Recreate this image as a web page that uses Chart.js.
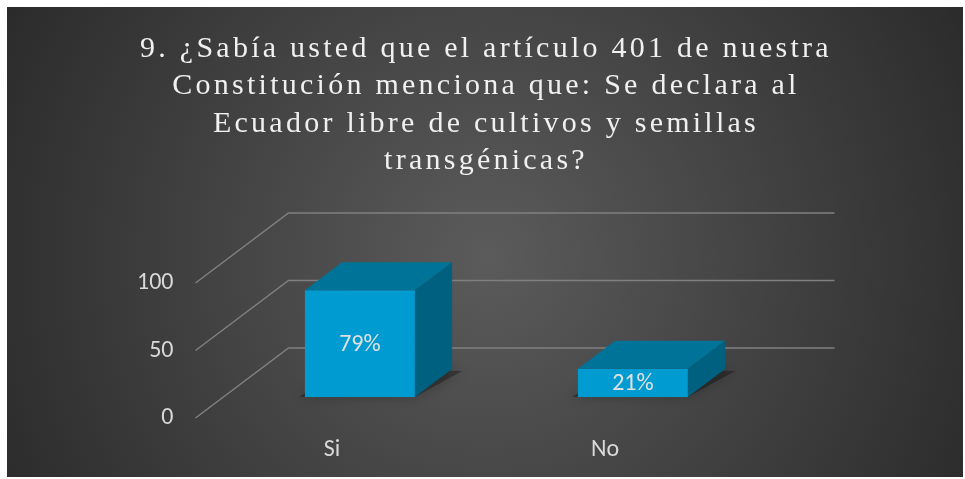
<!DOCTYPE html>
<html>
<head>
<meta charset="utf-8">
<script src="https://cdn.jsdelivr.net/npm/chart.js@4.4.1/dist/chart.umd.min.js"></script>
<style>
  body { margin: 0; background: #ffffff; }
  #chart { position: absolute; left: 7px; top: 7px; }
</style>
</head>
<body>
<canvas id="chart" width="956" height="470"></canvas>
<script>
const titleLines = [
    '9. ¿Sabía usted que el artículo 401 de nuestra',
    'Constitución menciona que: Se declara al',
    'Ecuador libre de cultivos y semillas',
    'transgénicas?'
];
const categories = ['Si', 'No'];
const values = [79, 21];
const valueLabels = ['79%', '21%'];
const yTicks = [0, 50, 100];

// oblique "3d" depth of the floor, and where the bars sit in it
const depth = { x: 93, y: -70 };
const barShift = 0.3;
const barDepth = 0.4;

const chartEl = document.getElementById('chart');

const bar3d = {
    id: 'bar3d',
    beforeDraw(chart) {
        const ctx = chart.ctx;
        const g = ctx.createRadialGradient(480, 250, 0, 480, 250, 620);
        g.addColorStop(0, '#5b5b5b');
        g.addColorStop(1, '#242424');
        ctx.save();
        ctx.fillStyle = g;
        ctx.fillRect(0, 0, chart.width, chart.height);
        ctx.restore();
    },
    beforeDatasetsDraw(chart) {
        const ctx = chart.ctx;
        const area = chart.chartArea;
        const y = chart.scales.y;
        // walls grid
        ctx.save();
        ctx.strokeStyle = '#808080';
        ctx.lineWidth = 1.5;
        y.ticks.forEach(t => {
            const py = y.getPixelForValue(t.value);
            ctx.beginPath();
            ctx.moveTo(area.left, py);
            ctx.lineTo(area.left + depth.x, py + depth.y);
            ctx.lineTo(area.right + depth.x, py + depth.y);
            ctx.stroke();
        });
        ctx.restore();

        // soft shadows on the floor
        const sx = depth.x * barShift, sy = depth.y * barShift;
        const dx = depth.x * barDepth, dy = depth.y * barDepth;
        ctx.save();
        ctx.translate(sx, sy);
        chart.getDatasetMeta(0).data.forEach(bar => {
            const x0 = bar.x - bar.width / 2, x1 = bar.x + bar.width / 2, b = bar.base;
            ctx.fillStyle = 'rgba(0,0,0,0.3)';
            ctx.shadowColor = 'rgba(0,0,0,0.7)';
            ctx.shadowBlur = 12;
            ctx.beginPath();
            ctx.moveTo(x0 - 6, b);
            ctx.lineTo(x1, b);
            ctx.lineTo(x1 + dx + 10, b + dy + 2);
            ctx.lineTo(x0 + dx, b + dy);
            ctx.closePath();
            ctx.fill();
        });
        ctx.restore();

        ctx.save();
        ctx.translate(sx, sy);
    },
    afterDatasetsDraw(chart) {
        const ctx = chart.ctx;
        ctx.restore();
        const sx = depth.x * barShift, sy = depth.y * barShift;
        const dx = depth.x * barDepth, dy = depth.y * barDepth;
        ctx.save();
        ctx.translate(sx, sy);
        chart.getDatasetMeta(0).data.forEach((bar, i) => {
            const x0 = bar.x - bar.width / 2, x1 = bar.x + bar.width / 2;
            const top = bar.y, b = bar.base;
            // top face
            ctx.fillStyle = '#007399';
            ctx.beginPath();
            ctx.moveTo(x0, top);
            ctx.lineTo(x0 + dx, top + dy);
            ctx.lineTo(x1 + dx, top + dy);
            ctx.lineTo(x1, top);
            ctx.closePath();
            ctx.fill();
            // side face
            ctx.fillStyle = '#00607f';
            ctx.beginPath();
            ctx.moveTo(x1, top);
            ctx.lineTo(x1 + dx, top + dy);
            ctx.lineTo(x1 + dx, b + dy);
            ctx.lineTo(x1, b);
            ctx.closePath();
            ctx.fill();
            // value label
            ctx.fillStyle = '#e0e0e0';
            ctx.font = '24px Carlito';
            ctx.textAlign = 'center';
            ctx.textBaseline = 'middle';
            ctx.fillText(valueLabels[i], bar.x, (top + b) / 2 + 1);
        });
        ctx.restore();
    },
    afterDraw(chart) {
        const ctx = chart.ctx;
        ctx.save();
        ctx.fillStyle = '#f0f0f0';
        ctx.font = '30px "Liberation Serif"';
        ctx.letterSpacing = '3.25px';
        ctx.textAlign = 'center';
        ctx.textBaseline = 'alphabetic';
        titleLines.forEach((line, i) => {
            ctx.fillText(line, chart.width / 2 + 1, 50 + i * 37.3);
        });
        ctx.restore();
    }
};

function makeChart() {
    new Chart(chartEl, {
        type: 'bar',
        data: {
            labels: categories,
            datasets: [{
                data: values,
                backgroundColor: '#009bd1',
                borderWidth: 0,
                barPercentage: 0.403,
                categoryPercentage: 1
            }]
        },
        options: {
            responsive: false,
            animation: false,
            layout: { padding: { top: 276, left: 98.5, right: 221.5, bottom: 0 } },
            plugins: {
                legend: { display: false },
                title: { display: false },
                tooltip: { enabled: false }
            },
            scales: {
                x: {
                    grid: { display: false },
                    border: { display: false },
                    ticks: { color: '#d9d9d9', font: { family: 'Carlito', size: 24 }, padding: 10 },
                    afterFit(s) { s.height = 59; }
                },
                y: {
                    min: 0,
                    max: 100,
                    grid: { display: false },
                    border: { display: false },
                    afterBuildTicks(s) { s.ticks = yTicks.map(v => ({ value: v })); },
                    ticks: { color: '#d9d9d9', font: { family: 'Carlito', size: 24 }, padding: 14 },
                    afterFit(s) { s.width = 90; }
                }
            }
        },
        plugins: [bar3d]
    });
}

Promise.all([
    document.fonts.load('30px "Liberation Serif"'),
    document.fonts.load('24px Carlito')
]).then(makeChart, makeChart);
</script>
</body>
</html>
